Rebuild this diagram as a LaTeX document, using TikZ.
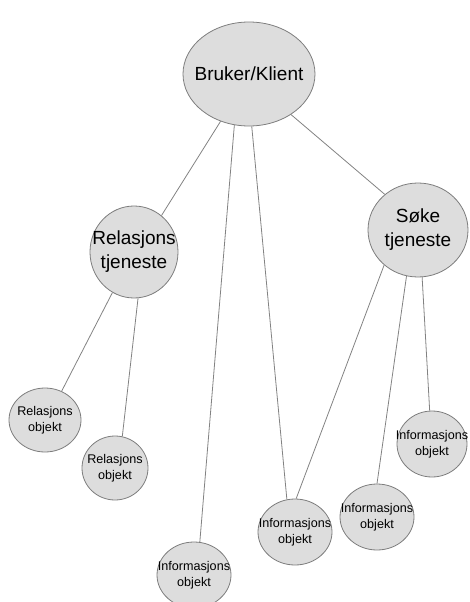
\documentclass[tikz,border=0pt]{standalone}
\usepackage{fontspec}
\setmainfont{Liberation Sans}
\usetikzlibrary{shapes.geometric}
\definecolor{bubblefill}{RGB}{221,221,221}
\definecolor{bubbleline}{RGB}{125,125,125}
\definecolor{linkline}{RGB}{130,130,130}
% zero-width centred line, so the text never widens its ellipse
\newcommand\zw[1]{\makebox[0pt]{#1}}
\begin{document}
\begin{tikzpicture}[x=1pt,y=-1pt,
  bubble/.style={ellipse,draw=bubbleline,fill=bubblefill,line width=0.8pt,
    inner sep=0pt,align=center,text=black},
  bigbubble/.style={bubble,font=\fontsize{19}{24}\selectfont},
  smallbubble/.style={bubble,minimum width=74pt,minimum height=66pt,
    font=\fontsize{12.6}{15.5}\selectfont},
  link/.style={draw=linkline,line width=0.8pt}]
\useasboundingbox (0,0) rectangle (469,602);

% service level
\node[bigbubble,minimum width=132pt,minimum height=104pt] (bk) at (249,74) {\zw{Bruker/Klient}};
\node[bigbubble,minimum width=88pt,minimum height=92pt] (rt) at (134,252) {\zw{Relasjons}\\\zw{tjeneste}};
\node[bigbubble,minimum width=100pt,minimum height=94pt] (sk) at (418,230) {\zw{Søke}\\\zw{tjeneste}};

% object level
\node[smallbubble,minimum width=72pt,minimum height=64pt] (ro1) at (45,420) {\zw{Relasjons}\\\zw{objekt}};
\node[smallbubble,minimum width=66pt,minimum height=64pt] (ro2) at (115,468) {\zw{Relasjons}\\\zw{objekt}};
\node[smallbubble] (io1) at (194,575) {\zw{Informasjons}\\\zw{objekt}};
\node[smallbubble] (io2) at (295,532) {\zw{Informasjons}\\\zw{objekt}};
\node[smallbubble] (io3) at (377,517) {\zw{Informasjons}\\\zw{objekt}};
\node[smallbubble,minimum width=70pt] (io4) at (432,444) {\zw{Informasjons}\\\zw{objekt}};

% connectors
\draw[link] (bk.239) -- (rt.53);
\draw[link] (bk.254) -- (io1.80);
\draw[link] (bk.273) -- (io2.104);
\draw[link] (bk.316) -- (sk.133);
\draw[link] (rt.242) -- (ro1.60);
\draw[link] (rt.275) -- (ro2.77);
\draw[link] (sk.226) -- (io2.88);
\draw[link] (sk.256) -- (io3.90);
\draw[link] (sk.275) -- (io4.94);
\end{tikzpicture}
\end{document}
